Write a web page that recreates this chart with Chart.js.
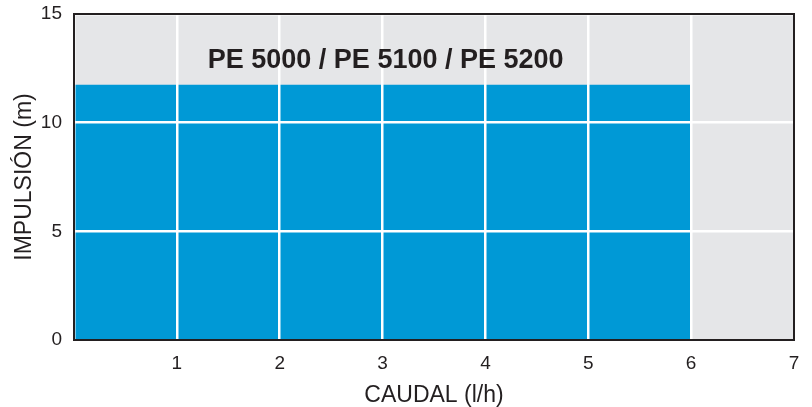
<!DOCTYPE html>
<html>
<head>
<meta charset="utf-8">
<script src="https://cdn.jsdelivr.net/npm/chart.js@4/dist/chart.umd.min.js"></script>
<style>
  html, body { margin: 0; padding: 0; background: #ffffff; }
  #wrap { width: 812px; height: 407px; position: relative; }
</style>
</head>
<body>
<div id="wrap"><canvas id="chart"></canvas></div>
<script>
// flow (l/h) and head (m) of the working area
const flowValues = [0, 6];
const headValues = [11.75, 11.75];
const xTicks = [0, 1, 2, 3, 4, 5, 6, 7];
const yTicks = [0, 5, 10, 15];
const seriesTitle = "PE 5000 / PE 5100 / PE 5200";
const titlePos = [3.03, 12.85];

const dark = "#231f20";
const blue = "#0099d6";
const gray = "#e5e6e8";

const points = flowValues.map((x, i) => ({ x: x, y: headValues[i] }));

// no extra room for edge tick labels, the frame is placed by layout padding
function noEdgePadding(scale) {
  scale.paddingTop = 0;
  scale.paddingBottom = 0;
  scale.paddingLeft = 0;
  scale.paddingRight = 0;
}

// gray plot background + black frame + series label
const plotDecor = {
  id: "plotDecor",
  beforeDraw(chart) {
    const { ctx, chartArea } = chart;
    ctx.save();
    ctx.fillStyle = gray;
    ctx.fillRect(chartArea.left, chartArea.top, chartArea.width, chartArea.height);
    ctx.restore();
  },
  afterDraw(chart) {
    const { ctx, chartArea, scales } = chart;
    ctx.save();
    ctx.strokeStyle = dark;
    ctx.lineWidth = 2;
    ctx.strokeRect(chartArea.left, chartArea.top, chartArea.width, chartArea.height);
    ctx.fillStyle = dark;
    ctx.font = "bold 27px 'Liberation Sans', Arial, sans-serif";
    ctx.textAlign = "center";
    ctx.textBaseline = "middle";
    ctx.fillText(
      seriesTitle,
      scales.x.getPixelForValue(titlePos[0]),
      scales.y.getPixelForValue(titlePos[1])
    );
    ctx.restore();
  },
};

new Chart(document.getElementById("chart"), {
  type: "line",
  data: {
    datasets: [
      {
        data: points,
        fill: "origin",
        backgroundColor: blue,
        borderWidth: 0,
        pointRadius: 0,
      },
    ],
  },
  options: {
    responsive: true,
    maintainAspectRatio: false,
    animation: false,
    layout: { padding: { top: 14, right: 18, left: 0, bottom: 0 } },
    plugins: { legend: { display: false }, tooltip: { enabled: false } },
    scales: {
      x: {
        type: "linear",
        min: 0,
        max: 7,
        afterBuildTicks: (scale) => {
          scale.ticks = xTicks.map((v) => ({ value: v }));
        },
        afterFit: (scale) => {
          scale.height = 67;
          noEdgePadding(scale);
        },
        grid: { color: "#ffffff", lineWidth: 2.5, drawTicks: false, z: 1 },
        border: { display: false },
        ticks: {
          padding: 12,
          color: dark,
          font: { family: "'Liberation Sans', Arial, sans-serif", size: 19 },
          callback: (v) => (v === 0 ? "" : v),
        },
        title: {
          display: true,
          text: "CAUDAL (l/h)",
          color: dark,
          font: { family: "'Liberation Sans', Arial, sans-serif", size: 23, lineHeight: 1 },
          padding: { top: 0, bottom: 0 },
        },
      },
      y: {
        min: 0,
        max: 15,
        afterBuildTicks: (scale) => {
          scale.ticks = yTicks.map((v) => ({ value: v }));
        },
        afterFit: (scale) => {
          scale.width = 74;
          noEdgePadding(scale);
        },
        grid: { color: "#ffffff", lineWidth: 2.5, drawTicks: false, z: 1 },
        border: { display: false },
        ticks: {
          padding: 12,
          color: dark,
          font: { family: "'Liberation Sans', Arial, sans-serif", size: 19 },
        },
        title: {
          display: true,
          text: "IMPULSIÓN (m)",
          color: dark,
          font: { family: "'Liberation Sans', Arial, sans-serif", size: 23, lineHeight: 1 },
          padding: { top: 13, bottom: 0 },
        },
      },
    },
  },
  plugins: [plotDecor],
});
</script>
</body>
</html>
